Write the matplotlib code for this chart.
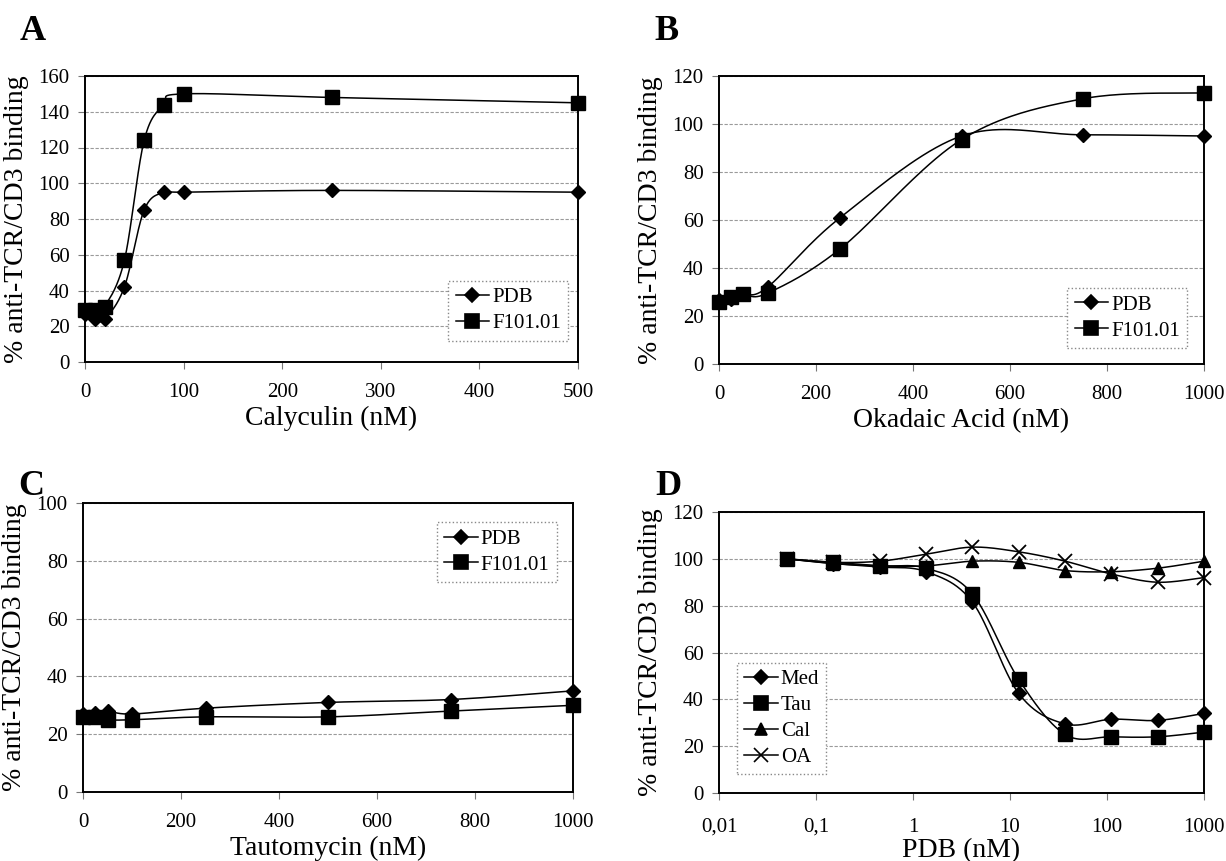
import numpy as np
import matplotlib
matplotlib.use("Agg")
import matplotlib.pyplot as plt
from matplotlib.lines import Line2D

plt.rcParams['font.family'] = ['Liberation Serif', 'DejaVu Serif']

# ===== DATA =====
# A - Calyculin
cal_x = [0, 10, 20, 40, 60, 80, 100, 250, 500]
cal_pdb = [27, 24, 24, 42, 85, 95, 95, 96, 95]
cal_f101 = [29, 29, 31, 57, 124, 144, 150, 148, 145]

# B - Okadaic acid
oa_x = [0, 25, 50, 100, 250, 500, 750, 1000]
oa_pdb = [26.5, 27, 29, 32, 61, 95, 95.5, 95]
oa_f101 = [26, 28, 29, 29.5, 48, 93.5, 110.5, 113]

# C - Tautomycin
tau_x = [0, 25, 50, 100, 250, 500, 750, 1000]
tau_pdb = [27, 27.5, 28, 27, 29, 31, 32, 35]
tau_f101 = [26, 26, 25, 25, 26, 26, 28, 30]

# D - PDB titration
pdb_x = [0.05, 0.15, 0.46, 1.37, 4.1, 12.3, 37, 111, 333, 1000]
d_med = [100, 98, 96.5, 94.5, 81.5, 42.5, 29.5, 31.5, 31, 34]
d_tau = [100, 98.5, 97, 96, 85, 48.5, 25, 24, 24, 26]
d_cal = [100, 98, 97, 97, 99, 98.5, 95, 94.5, 96, 99]
d_oa = [100, 98.5, 99, 102, 105, 103, 99, 93.5, 90, 92]

W, H = 1226, 861
YLAB = '% anti-TCR/CD3 binding'


def smooth(x, y, sx, sy, logx=False, n=40):
    # Bezier smoothing (Excel style), done in pixel-like units
    xx = np.log10(x) if logx else np.asarray(x, float)
    p = np.column_stack([xx * sx, np.asarray(y, float) * sy])
    out = []
    for i in range(len(p) - 1):
        p0 = p[i - 1] if i > 0 else p[i]
        p1, p2 = p[i], p[i + 1]
        p3 = p[i + 2] if i + 2 < len(p) else p[i + 1]
        c1 = p1 + (p2 - p0) / 6
        c2 = p2 - (p3 - p1) / 6
        t = np.linspace(0, 1, n)[:, None]
        seg = (1 - t) ** 3 * p1 + 3 * (1 - t) ** 2 * t * c1 + 3 * (1 - t) * t ** 2 * c2 + t ** 3 * p2
        out.append(seg if i == 0 else seg[1:])
    out = np.vstack(out)
    cx = out[:, 0] / sx
    if logx:
        cx = 10 ** cx
    return cx, out[:, 1] / sy


def make_ax(box):
    x0, y0, x1, y1 = box
    ax = fig.add_axes([x0 / W, 1 - y1 / H, (x1 - x0) / W, (y1 - y0) / H])
    for s in ax.spines.values():
        s.set_linewidth(1.4)
        s.set_color('black')
    ax.yaxis.grid(True, color='#9a9a9a', linestyle=(0, (3, 1.5)), linewidth=0.8)
    ax.set_axisbelow(True)
    ax.tick_params(axis='both', direction='out', length=5, width=0.8, color='#777777',
                   labelsize=15, top=False, right=False)
    ax.tick_params(axis='x', pad=10)
    ax.tick_params(axis='y', pad=6)
    ax.set_ylabel(YLAB, fontsize=20, labelpad=7)
    return ax, (x1 - x0), (y1 - y0)


def series(ax, x, y, marker, ms, sx, sy, logx=False, mew=1.0):
    cx, cy = smooth(x, y, sx, sy, logx)
    ax.plot(cx, cy, color='black', lw=1.1, zorder=3)
    ax.plot(x, y, linestyle='none', marker=marker, ms=ms, color='black',
            mfc='black', mec='black', mew=mew, zorder=4, clip_on=False)


def add_legend(ax, items, labels, **kw):
    handles = [Line2D([], [], color='black', lw=1.1, marker=m, ms=s, mew=1.2)
               for m, s in items]
    lg = ax.legend(handles, labels, fontsize=15, handlelength=1.6, handletextpad=0.15,
                   borderpad=0.35, labelspacing=0.3, fancybox=False, framealpha=1,
                   borderaxespad=0, **kw)
    fr = lg.get_frame()
    fr.set_edgecolor('#888888')
    fr.set_linestyle(':')
    fr.set_linewidth(1)
    return lg


fig = plt.figure(figsize=(W / 100, H / 100), dpi=100)

mk = [('D', 7), ('s', 9.5)]

# ----- A -----
ax, pw, ph = make_ax((85, 76, 578, 362))
ax.set_xlim(0, 500)
ax.set_ylim(0, 160)
ax.set_xticks(range(0, 501, 100))
ax.set_yticks(range(0, 161, 20))
series(ax, cal_x, cal_pdb, 'D', 7, pw / 500, ph / 160)
series(ax, cal_x, cal_f101, 's', 9.5, pw / 500, ph / 160)
ax.set_xlabel('Calyculin (nM)', fontsize=20, labelpad=3)
add_legend(ax, mk, ['PDB', 'F101.01'], loc='lower right', bbox_to_anchor=(0.98, 0.075))

# ----- B -----
ax, pw, ph = make_ax((719, 76, 1204, 364))
ax.set_xlim(0, 1000)
ax.set_ylim(0, 120)
ax.set_xticks(range(0, 1001, 200))
ax.set_yticks(range(0, 121, 20))
series(ax, oa_x, oa_pdb, 'D', 7, pw / 1000, ph / 120)
series(ax, oa_x, oa_f101, 's', 9.5, pw / 1000, ph / 120)
ax.set_xlabel('Okadaic Acid (nM)', fontsize=20, labelpad=3)
add_legend(ax, mk, ['PDB', 'F101.01'], loc='lower right', bbox_to_anchor=(0.965, 0.056))

# ----- C -----
ax, pw, ph = make_ax((83, 503, 573, 792))
ax.set_xlim(0, 1000)
ax.set_ylim(0, 100)
ax.set_xticks(range(0, 1001, 200))
ax.set_yticks(range(0, 101, 20))
series(ax, tau_x, tau_pdb, 'D', 7, pw / 1000, ph / 100)
series(ax, tau_x, tau_f101, 's', 9.5, pw / 1000, ph / 100)
ax.set_xlabel('Tautomycin (nM)', fontsize=20, labelpad=3)
add_legend(ax, mk, ['PDB', 'F101.01'], loc='upper right', bbox_to_anchor=(0.967, 0.934))

# ----- D -----
ax, pw, ph = make_ax((719, 512, 1204, 793))
ax.set_xscale('log')
ax.set_xlim(0.01, 1000)
ax.set_ylim(0, 120)
ax.set_xticks([0.01, 0.1, 1, 10, 100, 1000])
ax.set_xticklabels(['0,01', '0,1', '1', '10', '100', '1000'])
ax.minorticks_off()
ax.set_yticks(range(0, 121, 20))
dec = pw / 5
series(ax, pdb_x, d_med, 'D', 7, dec, ph / 120, logx=True)
series(ax, pdb_x, d_tau, 's', 9.5, dec, ph / 120, logx=True)
series(ax, pdb_x, d_cal, '^', 9, dec, ph / 120, logx=True)
series(ax, pdb_x, d_oa, 'x', 10, dec, ph / 120, logx=True, mew=1.3)
ax.tick_params(axis='x', pad=13)
ax.set_xlabel('PDB (nM)', fontsize=20, labelpad=1)
mk4 = [('D', 7), ('s', 9.5), ('^', 9), ('x', 10)]
add_legend(ax, mk4, ['Med', 'Tau', 'Cal', 'OA'], loc='lower left', bbox_to_anchor=(0.037, 0.067))

# panel letters
for lab, px, py in [('A', 20, 15), ('B', 654, 15), ('C', 18, 470), ('D', 655, 470)]:
    fig.text(px / W, 1 - py / H, lab, fontsize=26, fontweight='bold', ha='left', va='top')

fig.savefig('out.png', dpi=100)
